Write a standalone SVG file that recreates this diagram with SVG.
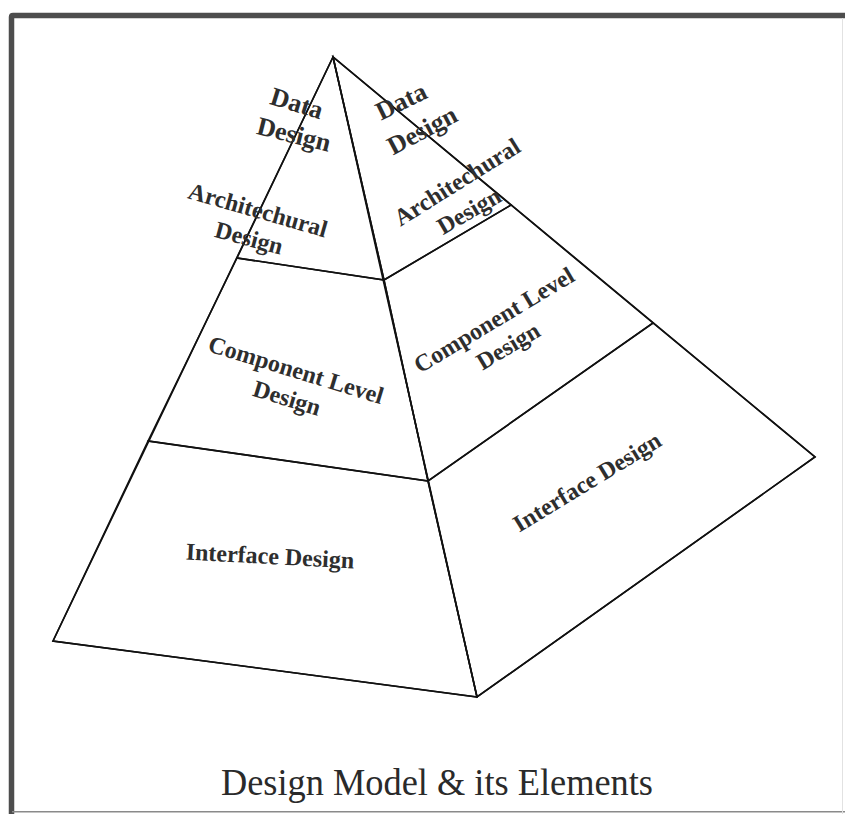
<svg xmlns="http://www.w3.org/2000/svg" width="845" height="814" viewBox="0 0 845 814">
<style>
.edge{fill:none;stroke:#111;stroke-width:1.6;stroke-linejoin:miter}
.lbl{font-family:"Liberation Serif","Times New Roman",serif;font-size:24px;font-weight:bold;fill:#2e2e2e;text-anchor:middle}
.big{font-size:26px}
.title{font-family:"Liberation Serif","Times New Roman",serif;font-size:37px;fill:#2a2a2a;text-anchor:middle}
</style>
<rect x="0" y="0" width="845" height="814" fill="#ffffff"/>
<g id="frame">
<path d="M11.5 814 V17 Q11.5 15.5 13 15.5 H845" fill="none" stroke="#4d4d4d" stroke-width="5.5"/>
<line x1="12" y1="811.8" x2="845" y2="811.8" stroke="#8a8a8a" stroke-width="1.5"/>
<line x1="842.5" y1="18" x2="842.5" y2="814" stroke="#e2e2e2" stroke-width="1"/>
</g>
<g id="connectors">
<polygon class="edge" points="333,57 53,641 477,697 815,457"/>
<line class="edge" x1="333" y1="57" x2="477" y2="697"/>
</g>
<g id="left-top">
<polygon class="edge" points="333,57 237,258 384,280"/>
<text class="lbl big" transform="translate(297,103) rotate(17)" y="9">Data</text>
<text class="lbl big" transform="translate(294,134) rotate(14)" y="9">Design</text>
<text class="lbl" transform="translate(258,210) rotate(16)" y="8">Architechural</text>
<text class="lbl" transform="translate(249,238) rotate(15)" y="8">Design</text>
</g>
<g id="left-mid">
<polygon class="edge" points="237,258 148,441 428,481 384,280"/>
<text class="lbl" transform="translate(296,370) rotate(17)" y="8">Component Level</text>
<text class="lbl" transform="translate(287,398) rotate(17)" y="8">Design</text>
</g>
<g id="left-bot">
<polygon class="edge" points="148,441 53,641 477,697 428,481"/>
<text class="lbl" transform="translate(270,556) rotate(3)" y="8">Interface Design</text>
</g>
<g id="right-top">
<polygon class="edge" points="333,57 384,280 511,205"/>
<text class="lbl big" transform="translate(401,101) rotate(-26)" y="9">Data</text>
<text class="lbl big" transform="translate(422,130) rotate(-28)" y="9">Design</text>
<text class="lbl" transform="translate(457,182) rotate(-32)" y="8">Architechural</text>
<text class="lbl" transform="translate(469,211) rotate(-30)" y="8">Design</text>
</g>
<g id="right-mid">
<polygon class="edge" points="384,280 428,481 653,323 511,205"/>
<text class="lbl" transform="translate(494,320) rotate(-31)" y="8">Component Level</text>
<text class="lbl" transform="translate(508,346) rotate(-31)" y="8">Design</text>
</g>
<g id="right-bot">
<polygon class="edge" points="428,481 477,697 815,457 653,323"/>
<text class="lbl" transform="translate(587,482) rotate(-31.5)" y="8">Interface Design</text>
</g>
<g id="title">
<text class="title" x="437" y="795" textLength="432" lengthAdjust="spacingAndGlyphs">Design Model &amp; its Elements</text>
</g>
</svg>
